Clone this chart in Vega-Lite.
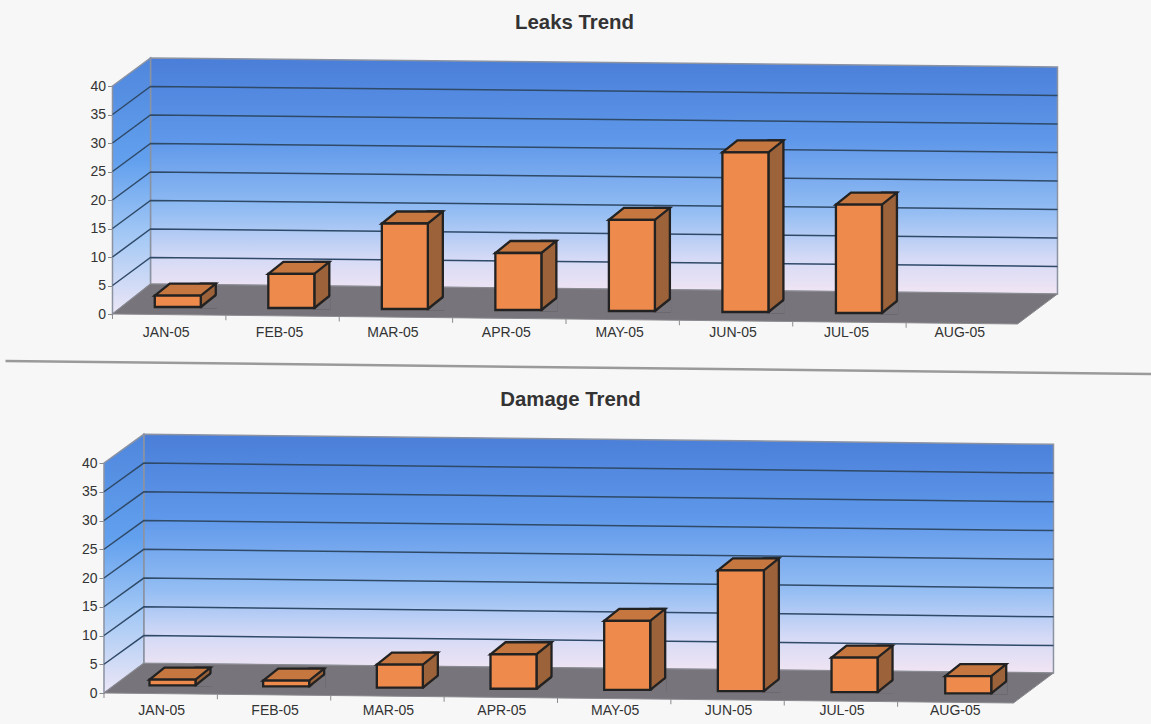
{
"$schema":"https://vega.github.io/schema/vega-lite/v6.json",
"background":"#f7f7f7",
"padding":{"left":-0.5,"top":12,"right":0,"bottom":12},
"spacing":10,
"config":{"view":{"stroke":null},"font":"Liberation Sans","title":{"font":"Liberation Sans","fontSize":20.4,"fontWeight":"bold","color":"#333333"},
"axis":{"labelFont":"Liberation Sans","labelFontSize":14,"labelColor":"#333333","title":null,"grid":false,"labelOverlap":false}},
"datasets":{
"leaks":[{"month":"JAN-05","n":1,"value":2},{"month":"FEB-05","n":2,"value":6},{"month":"MAR-05","n":3,"value":15},{"month":"APR-05","n":4,"value":10},{"month":"MAY-05","n":5,"value":16},{"month":"JUN-05","n":6,"value":28},{"month":"JUL-05","n":7,"value":19},{"month":"AUG-05","n":8,"value":0}],
"damage":[{"month":"JAN-05","n":1,"value":1},{"month":"FEB-05","n":2,"value":1},{"month":"MAR-05","n":3,"value":4},{"month":"APR-05","n":4,"value":6},{"month":"MAY-05","n":5,"value":12},{"month":"JUN-05","n":6,"value":21},{"month":"JUL-05","n":7,"value":6},{"month":"AUG-05","n":8,"value":3}],
"origin":[{"month":"JAN-05","value":0}],
"ticks":[{"month":"JAN-05","value":5},{"month":"JAN-05","value":10},{"month":"JAN-05","value":15},{"month":"JAN-05","value":20},{"month":"JAN-05","value":25},{"month":"JAN-05","value":30},{"month":"JAN-05","value":35}]
},
"vconcat":[
{
"title":{"text":"Leaks Trend","dx":8.5,"offset":22},
"width":907,"height":228,
"data":{"name":"leaks"},
"encoding":{
"x":{"field":"month","type":"nominal","sort":null,"scale":{"paddingInner":0,"paddingOuter":0},
"axis":{"domain":false,"ticks":false,"labelAngle":0,"labelPadding":11,"labelOffset":-3,"labelOverlap":false,"encoding":{"labels":{"update":{"dy":{"signal":"1.14*indexof(['JAN-05','FEB-05','MAR-05','APR-05','MAY-05','JUN-05','JUL-05','AUG-05'],datum.value)"}}}}}},
"y":{"field":"value","type":"quantitative","scale":{"domain":[0,40],"nice":false},"axis":{"values":[0,5,10,15,20,25,30,35,40],"domain":false,"tickSize":5,"tickColor":"#888888","labelPadding":2,"labelOverlap":false}}
},
"layer":[
{"data":{"name":"origin"},"mark":{"type":"point","filled":true,"opacity":1,"size":1000000,"shape":"M-.3274 .094L1.9646 .12","stroke":"#9a9a9a","strokeWidth":2.5,"fill":null}},
{"data":{"name":"origin"},"mark":{"type":"point","filled":true,"opacity":1,"size":1000000,"shape":"M-.0374 -.512L1.7766 -.494L1.7766 -.04L-.0374 -.06Z","stroke":"#8b93a3","strokeWidth":1.5,"fill":{"x1":0,"y1":0,"x2":0,"y2":1,"gradient":"linear","stops":[{"offset":0,"color":"#4a7ed8"},{"offset":0.35,"color":"#5f98ea"},{"offset":0.65,"color":"#93bdf3"},{"offset":0.85,"color":"#d5daf6"},{"offset":1,"color":"#f1e5f3"}]}}},
{"data":{"name":"origin"},"mark":{"type":"point","filled":true,"opacity":1,"size":1000000,"shape":"M-.1134 -.456L-.0374 -.512L-.0374 -.06L-.1134 0Z","stroke":"#8b93a3","strokeWidth":1.5,"fill":{"x1":0,"y1":0,"x2":0,"y2":1,"gradient":"linear","stops":[{"offset":0,"color":"#4f86dc"},{"offset":0.4,"color":"#62a0ee"},{"offset":0.7,"color":"#a5c9f5"},{"offset":1,"color":"#ece6f6"}]}}},
{"data":{"name":"origin"},"mark":{"type":"point","filled":true,"opacity":1,"size":1000000,"shape":"M-.1134 0L-.0374 -.06L1.7766 -.04L1.6966 .02Z","fill":"#77747b","stroke":"#8b8b90","strokeWidth":1}},
{"data":{"name":"ticks"},"mark":{"type":"point","filled":false,"opacity":1,"size":1000000,"shape":"M-.1134 0L-.0374 -.056L1.7766 -.038","stroke":"#2f4a68","strokeWidth":1.5}},
{"mark":{"type":"point","filled":false,"opacity":1,"size":10000,"shape":"M0 0L0 .1","stroke":"#8b8b90","strokeWidth":1,"xOffset":-56.7,"yOffset":{"expr":"1.25*(datum.n-1)"}},"encoding":{"y":{"datum":0,"axis":{"values":[0,5,10,15,20,25,30,35,40],"domain":false,"tickSize":5,"tickColor":"#888888","labelPadding":2,"labelOverlap":false}}}},
{"transform":[{"filter":"datum.value>0"}],"mark":{"type":"bar","size":15,"fill":"#9c6239","stroke":"#222222","strokeWidth":2.3,"xOffset":{"expr":"39.1+0.15*(datum.n-1)"},"yOffset":{"expr":"-19+(datum.n-1)"},"y2Offset":{"expr":"-7+(datum.n-1)"}},"encoding":{"y2":{"datum":0}}},
{"transform":[{"filter":"datum.value>0"}],"mark":{"type":"point","filled":true,"opacity":1,"size":10000,"shape":"M.46 .03L.79 .03L.79 -.24Z","fill":"#77747b","strokeWidth":0,"xOffset":{"expr":"8.6+0.15*(datum.n-1)"},"yOffset":{"expr":"-7+(datum.n-1)"}},"encoding":{"y":{"datum":0,"axis":{"values":[0,5,10,15,20,25,30,35,40],"domain":false,"tickSize":5,"tickColor":"#888888","labelPadding":2,"labelOverlap":false}}}},
{"transform":[{"filter":"datum.value>0"}],"mark":{"type":"point","filled":false,"opacity":1,"size":10000,"shape":"M.46 0L.76 -.24","stroke":"#222222","strokeWidth":2.3,"xOffset":{"expr":"8.6+0.15*(datum.n-1)"},"yOffset":{"expr":"-7+(datum.n-1)"}},"encoding":{"y":{"datum":0,"axis":{"values":[0,5,10,15,20,25,30,35,40],"domain":false,"tickSize":5,"tickColor":"#888888","labelPadding":2,"labelOverlap":false}}}},
{"transform":[{"filter":"datum.value>0"}],"mark":{"type":"point","filled":true,"opacity":1,"size":10000,"shape":"M-.46 0L.46 0L.76 -.24L-.16 -.24Z","fill":"#c5773f","stroke":"#222222","strokeWidth":2.3,"xOffset":{"expr":"8.6+0.15*(datum.n-1)"},"yOffset":{"expr":"-7+(datum.n-1)"}}},
{"transform":[{"filter":"datum.value>0"}],"mark":{"type":"bar","size":46,"fill":"#ee8a4c","stroke":"#222222","strokeWidth":2.3,"xOffset":{"expr":"8.6+0.15*(datum.n-1)"},"yOffset":{"expr":"-7+(datum.n-1)"},"y2Offset":{"expr":"-7+(datum.n-1)"}},"encoding":{"y2":{"datum":0}}}
]
},
{
"title":{"text":"Damage Trend","dx":4.5,"offset":21},
"width":907,"height":230,
"data":{"name":"damage"},
"encoding":{
"x":{"field":"month","type":"nominal","sort":null,"scale":{"paddingInner":0,"paddingOuter":0},
"axis":{"domain":false,"ticks":false,"labelAngle":0,"labelPadding":10,"labelOffset":-7.5,"labelOverlap":false,"encoding":{"labels":{"update":{"dy":{"signal":"1.1*indexof(['JAN-05','FEB-05','MAR-05','APR-05','MAY-05','JUN-05','JUL-05','AUG-05'],datum.value)"}}}}}},
"y":{"field":"value","type":"quantitative","scale":{"domain":[0,40],"nice":false},"axis":{"values":[0,5,10,15,20,25,30,35,40],"domain":false,"tickSize":5,"tickColor":"#888888","labelPadding":2,"offset":8.5,"labelOverlap":false}}
},
"layer":[
{"data":{"name":"origin"},"mark":{"type":"point","filled":true,"opacity":1,"size":1000000,"xOffset":-8.5,"shape":"M-.0338 -.5174L1.7856 -.4974L1.7856 -.04L-.0338 -.0594Z","stroke":"#8b93a3","strokeWidth":1.5,"fill":{"x1":0,"y1":0,"x2":0,"y2":1,"gradient":"linear","stops":[{"offset":0,"color":"#4a7ed8"},{"offset":0.35,"color":"#5f98ea"},{"offset":0.65,"color":"#93bdf3"},{"offset":0.85,"color":"#d5daf6"},{"offset":1,"color":"#f1e5f3"}]}}},
{"data":{"name":"origin"},"mark":{"type":"point","filled":true,"opacity":1,"size":1000000,"xOffset":-8.5,"shape":"M-.1134 -.46L-.0338 -.5174L-.0338 -.0594L-.1134 0Z","stroke":"#8b93a3","strokeWidth":1.5,"fill":{"x1":0,"y1":0,"x2":0,"y2":1,"gradient":"linear","stops":[{"offset":0,"color":"#4f86dc"},{"offset":0.4,"color":"#62a0ee"},{"offset":0.7,"color":"#a5c9f5"},{"offset":1,"color":"#ece6f6"}]}}},
{"data":{"name":"origin"},"mark":{"type":"point","filled":true,"opacity":1,"size":1000000,"xOffset":-8.5,"shape":"M-.1134 0L-.0338 -.0594L1.7856 -.04L1.7056 .02Z","fill":"#77747b","stroke":"#8b8b90","strokeWidth":1}},
{"data":{"name":"ticks"},"mark":{"type":"point","filled":false,"opacity":1,"size":1000000,"xOffset":-8.5,"shape":"M-.1134 0L-.0338 -.0574L1.7856 -.0374","stroke":"#2f4a68","strokeWidth":1.5}},
{"mark":{"type":"point","filled":false,"opacity":1,"size":10000,"shape":"M0 0L0 .1","stroke":"#8b8b90","strokeWidth":1,"xOffset":-65.2,"yOffset":{"expr":"1.25*(datum.n-1)"}},"encoding":{"y":{"datum":0,"axis":{"values":[0,5,10,15,20,25,30,35,40],"domain":false,"tickSize":5,"tickColor":"#888888","labelPadding":2,"offset":8.5,"labelOverlap":false}}}},
{"mark":{"type":"bar","size":15,"fill":"#9c6239","stroke":"#222222","strokeWidth":2.3,"xOffset":{"expr":"33.8+0.3*(datum.n-1)"},"yOffset":{"expr":"-19.7+1.15*(datum.n-1)"},"y2Offset":{"expr":"-7.7+1.15*(datum.n-1)"}},"encoding":{"y2":{"datum":0}}},
{"mark":{"type":"point","filled":true,"opacity":1,"size":10000,"shape":"M.46 .03L.79 .03L.79 -.24Z","fill":"#77747b","strokeWidth":0,"xOffset":{"expr":"3.3+0.3*(datum.n-1)"},"yOffset":{"expr":"-7.7+1.15*(datum.n-1)"}},"encoding":{"y":{"datum":0,"axis":{"values":[0,5,10,15,20,25,30,35,40],"domain":false,"tickSize":5,"tickColor":"#888888","labelPadding":2,"offset":8.5,"labelOverlap":false}}}},
{"mark":{"type":"point","filled":false,"opacity":1,"size":10000,"shape":"M.46 0L.76 -.24","stroke":"#222222","strokeWidth":2.3,"xOffset":{"expr":"3.3+0.3*(datum.n-1)"},"yOffset":{"expr":"-7.7+1.15*(datum.n-1)"}},"encoding":{"y":{"datum":0,"axis":{"values":[0,5,10,15,20,25,30,35,40],"domain":false,"tickSize":5,"tickColor":"#888888","labelPadding":2,"offset":8.5,"labelOverlap":false}}}},
{"mark":{"type":"point","filled":true,"opacity":1,"size":10000,"shape":"M-.46 0L.46 0L.76 -.24L-.16 -.24Z","fill":"#c5773f","stroke":"#222222","strokeWidth":2.3,"xOffset":{"expr":"3.3+0.3*(datum.n-1)"},"yOffset":{"expr":"-7.7+1.15*(datum.n-1)"}}},
{"mark":{"type":"bar","size":46,"fill":"#ee8a4c","stroke":"#222222","strokeWidth":2.3,"xOffset":{"expr":"3.3+0.3*(datum.n-1)"},"yOffset":{"expr":"-7.7+1.15*(datum.n-1)"},"y2Offset":{"expr":"-7.7+1.15*(datum.n-1)"}},"encoding":{"y2":{"datum":0}}}
]
}
]
}
